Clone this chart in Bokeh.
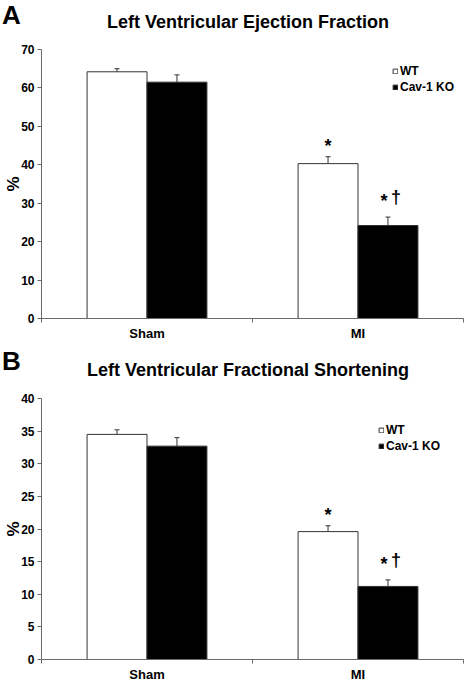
from bokeh.plotting import figure
from bokeh.models import (ColumnDataSource, Range1d, FixedTicker, Legend, LegendItem,
                          Whisker, TeeHead, Div)
from bokeh.layouts import column
from bokeh.core.properties import value
from bokeh.embed import file_html
from bokeh.resources import INLINE

# ---------------- data ----------------
categories = ["Sham", "MI"]
series_names = ["WT", "Cav-1 KO"]

ef_wt = [64.2, 40.3]
ef_wt_err = [0.8, 1.8]
ef_ko = [61.5, 24.2]
ef_ko_err = [1.9, 2.2]

fs_wt = [34.5, 19.6]
fs_wt_err = [0.7, 0.9]
fs_ko = [32.7, 11.2]
fs_ko_err = [1.3, 1.0]

sig_wt = ["", "*"]
sig_ko = ["", "*"]
sig_ko_dagger = ["", "\u2020"]

ef_ticks = [0, 10, 20, 30, 40, 50, 60, 70]
fs_ticks = [0, 5, 10, 15, 20, 25, 30, 35, 40]

FONT = "Liberation Sans"
AXIS_COLOR = "#6a6a6a"
EDGE = "#333333"
BAR_W = 0.284
OFF = 0.142
W = 466


def header(letter, title, height, letter_top, title_top):
    html = (
        f'<div style="position:relative;width:{W}px;height:{height}px;'
        f'font-family:\'{FONT}\';font-weight:bold;color:black;">'
        f'<span style="position:absolute;left:2px;top:{letter_top}px;font-size:26px;'
        f'line-height:26px;white-space:nowrap;">{letter}</span>'
        f'<span style="position:absolute;left:30px;width:436px;top:{title_top}px;'
        f'font-size:18px;line-height:18px;text-align:center;white-space:nowrap;">{title}</span>'
        f'</div>'
    )
    return Div(text=html, width=W, height=height, margin=(0, 0, 0, 0))


def make_panel(wt, wt_err, ko, ko_err, yticks, frame_h, legend_xy):
    top_border = 8
    bottom_border = 24
    p = figure(width=W, height=frame_h + top_border + bottom_border,
               output_backend="svg", toolbar_location=None,
               x_range=Range1d(0, len(categories)),
               y_range=Range1d(yticks[0], yticks[-1]),
               min_border_left=41, min_border_right=3,
               min_border_top=top_border, min_border_bottom=bottom_border)
    p.outline_line_color = None
    p.grid.visible = False

    centers = list(range(len(categories)))
    x_wt = [c + 0.5 - OFF for c in centers]
    x_ko = [c + 0.5 + OFF for c in centers]
    src_wt = ColumnDataSource(dict(x=x_wt, top=wt, up=[a + b for a, b in zip(wt, wt_err)], sig=sig_wt))
    src_ko = ColumnDataSource(dict(x=x_ko, top=ko, up=[a + b for a, b in zip(ko, ko_err)],
                                   sig=sig_ko, dag=sig_ko_dagger))

    r_wt = p.vbar(x="x", top="top", width=BAR_W, bottom=0, source=src_wt,
                  fill_color="white", line_color=EDGE, line_width=1)
    r_ko = p.vbar(x="x", top="top", width=BAR_W, bottom=0, source=src_ko,
                  fill_color="black", line_color=EDGE, line_width=1)

    for src in (src_wt, src_ko):
        p.add_layout(Whisker(base="x", lower="top", upper="up", source=src,
                             line_color=EDGE, line_width=1,
                             upper_head=TeeHead(size=5, line_color=EDGE, line_width=1),
                             lower_head=None))

    # significance marks
    p.text(x="x", y="up", text="sig", source=src_wt, text_align="center",
           text_baseline="alphabetic", y_offset=-11, text_font=value(FONT),
           text_font_style="bold", text_font_size="18px", text_color="black")
    p.text(x="x", y="up", text="sig", source=src_ko, text_align="center",
           text_baseline="alphabetic", x_offset=-4, y_offset=-16, text_font=value(FONT),
           text_font_style="bold", text_font_size="18px", text_color="black")
    p.text(x="x", y="up", text="dag", source=src_ko, text_align="center",
           text_baseline="alphabetic", x_offset=8, y_offset=-20, text_font=value(FONT),
           text_font_style="bold", text_font_size="18px", text_color="black")

    # x axis: labels at category centres, ticks at category boundaries
    xa = p.xaxis[0]
    xa.ticker = FixedTicker(ticks=[c + 0.5 for c in centers],
                            minor_ticks=list(range(len(categories) + 1)))
    xa.major_label_overrides = {c + 0.5: name for c, name in zip(centers, categories)}
    xa.major_tick_out = 0
    xa.major_tick_in = 0
    xa.minor_tick_out = 4
    xa.minor_tick_in = 0
    xa.minor_tick_line_color = AXIS_COLOR
    xa.axis_line_color = AXIS_COLOR
    xa.major_label_standoff = 3
    xa.major_label_text_font = FONT
    xa.major_label_text_font_style = "bold"
    xa.major_label_text_font_size = "13px"
    xa.major_label_text_color = "black"

    ya = p.yaxis[0]
    ya.ticker = FixedTicker(ticks=yticks, minor_ticks=[])
    ya.major_tick_out = 4
    ya.major_tick_in = 0
    ya.major_tick_line_color = AXIS_COLOR
    ya.axis_line_color = AXIS_COLOR
    ya.major_label_standoff = 3
    ya.major_label_text_font = FONT
    ya.major_label_text_font_style = "bold"
    ya.major_label_text_font_size = "12px"
    ya.major_label_text_color = "black"
    ya.axis_label = "%"
    ya.axis_label_standoff = -5
    ya.axis_label_text_font = FONT
    ya.axis_label_text_font_style = "bold"
    ya.axis_label_text_font_size = "17px"
    ya.axis_label_text_color = "black"

    legend = Legend(items=[LegendItem(label=series_names[0], renderers=[r_wt]),
                           LegendItem(label=series_names[1], renderers=[r_ko])],
                    location=legend_xy,
                    glyph_width=6, glyph_height=6, label_height=14, label_width=10,
                    spacing=2, padding=0, margin=0, label_standoff=2,
                    label_text_font=FONT, label_text_font_style="bold",
                    label_text_font_size="12px", label_text_color="black",
                    border_line_color=None, background_fill_alpha=0)
    p.add_layout(legend, "center")
    return p


ha = header("A", "Left Ventricular Ejection Fraction", 41, 2, 13)
pa = make_panel(ef_wt, ef_wt_err, ef_ko, ef_ko_err, ef_ticks, 270, (351, 224))
hb = header("B", "Left Ventricular Fractional Shortening", 47, 5, 18)
pb = make_panel(fs_wt, fs_wt_err, fs_ko, fs_ko_err, fs_ticks, 262, (337, 206))

layout = column(ha, pa, hb, pb, spacing=0)
open("out.html", "w").write(file_html(layout, INLINE))
